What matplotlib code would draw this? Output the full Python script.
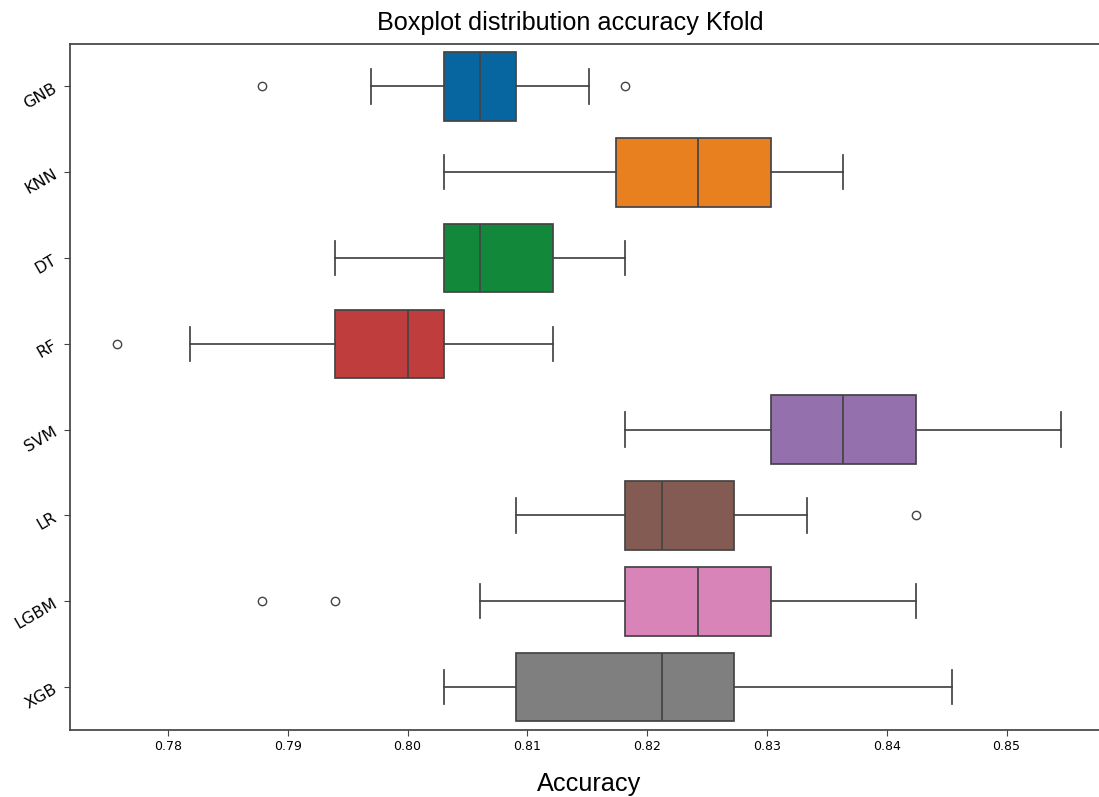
import matplotlib
matplotlib.use("Agg")
import matplotlib.pyplot as plt

models = ["GNB", "KNN", "DT", "RF", "SVM", "LR", "LGBM", "XGB"]
whislo = [0.79697, 0.80303, 0.79394, 0.78182, 0.81818, 0.80909, 0.80606, 0.80303]
q1 = [0.80303, 0.81742, 0.80303, 0.79394, 0.83030, 0.81818, 0.81818, 0.80909]
med = [0.80606, 0.82424, 0.80606, 0.80000, 0.83636, 0.82121, 0.82424, 0.82121]
q3 = [0.80909, 0.83030, 0.81212, 0.80303, 0.84242, 0.82727, 0.83030, 0.82727]
whishi = [0.81515, 0.83636, 0.81818, 0.81212, 0.85455, 0.83333, 0.84242, 0.84545]
fliers = [[0.78788, 0.81818], [], [], [0.77576], [], [0.84242], [0.78788, 0.79394], []]
colors = ["#0765a0", "#e8801f", "#12883a", "#c03d3e", "#9470ad", "#845b53", "#d884b8", "#7f7f7f"]

W, H = 1099, 797
fig = plt.figure(figsize=(W / 100, H / 100), dpi=100)
ax = fig.add_axes([70 / W, 1 - 730 / H, 1038.3 / W, (730 - 43.5) / H])

stats = []
for i, m in enumerate(models):
    stats.append(dict(label=m, whislo=whislo[i], q1=q1[i], med=med[i], q3=q3[i],
                      whishi=whishi[i], fliers=fliers[i]))

line_c = "#444444"
bp = ax.bxp(stats, positions=range(len(models)), widths=0.8, orientation="horizontal",
            patch_artist=True, showfliers=True,
            boxprops=dict(edgecolor=line_c, linewidth=1.25),
            medianprops=dict(color=line_c, linewidth=1.25),
            whiskerprops=dict(color=line_c, linewidth=1.25),
            capprops=dict(color=line_c, linewidth=1.25),
            flierprops=dict(marker="o", markerfacecolor="none", markeredgecolor=line_c,
                            markersize=6, markeredgewidth=1.0))
for patch, c in zip(bp["boxes"], colors):
    patch.set_facecolor(c)

ax.set_ylim(len(models) - 0.5, -0.5)
ax.set_yticks(range(len(models)))
ax.set_yticklabels(models, rotation=30, fontsize=11.5)
ax.tick_params(axis="x", labelsize=9, length=4, color=line_c)
ax.tick_params(axis="y", length=4, color=line_c)
for s in ax.spines.values():
    s.set_color(line_c)
    s.set_linewidth(1.25)

fig.text(570.5 / W, 1 - 30 / H, "Boxplot distribution accuracy Kfold", ha="center",
         va="baseline", fontsize=18.2, family=["Liberation Sans", "DejaVu Sans"])
fig.text(589 / W, 1 - 791 / H, "Accuracy", ha="center", va="baseline",
         fontsize=18.2, family=["Liberation Sans", "DejaVu Sans"])

fig.savefig("out.png", dpi=100)
